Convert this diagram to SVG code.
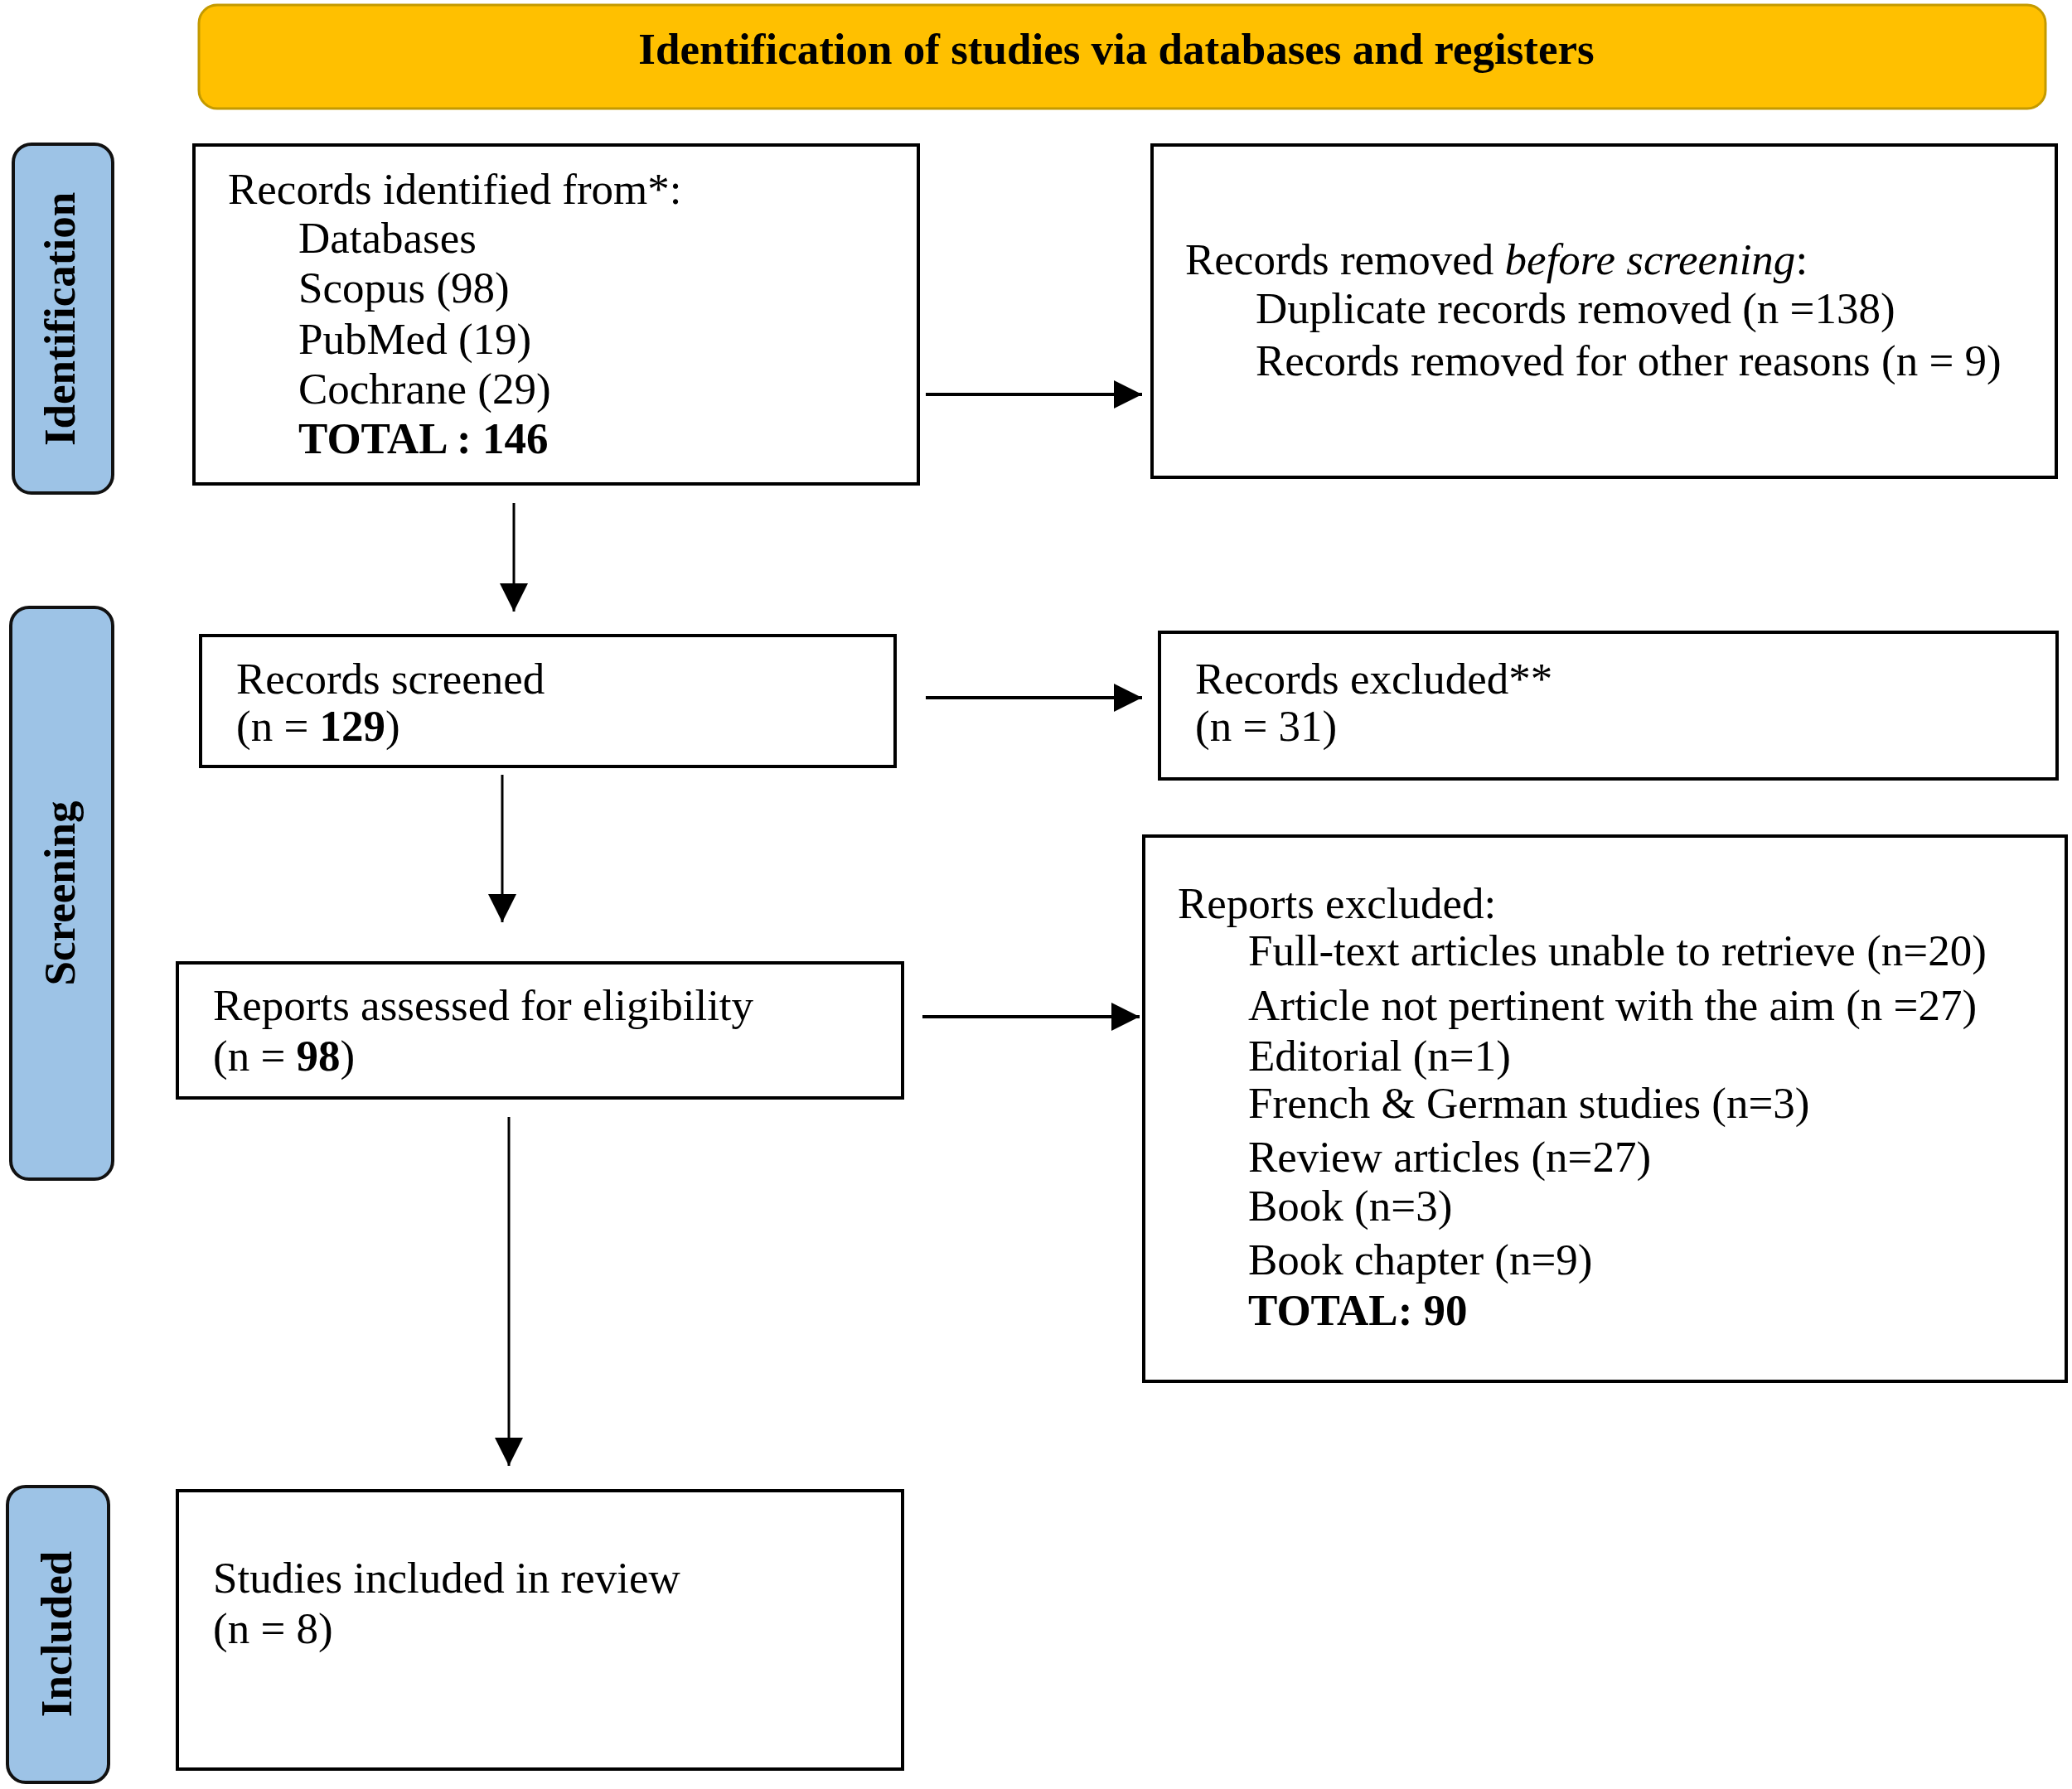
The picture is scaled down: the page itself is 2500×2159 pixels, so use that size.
<svg xmlns="http://www.w3.org/2000/svg" width="2500" height="2159" viewBox="0 0 2500 2159">
<style>
text{font-family:"Liberation Serif","Times New Roman",serif;font-size:53px;fill:#000}
.b{font-weight:bold}
.box{fill:#fff;stroke:#000;stroke-width:4}
.side{fill:#9DC3E6;stroke:#111;stroke-width:4}
.hdr{fill:#FFC000;stroke:#C49A00;stroke-width:3}
.con{stroke:#000;fill:none}
</style>
<defs>
<marker id="ah" viewBox="0 0 10 10" refX="10" refY="5" markerWidth="34" markerHeight="34" markerUnits="userSpaceOnUse" orient="auto">
<path d="M0,0 L10,5 L0,10 z" fill="#000"/>
</marker>
</defs>
<rect width="2500" height="2159" fill="#fff"/>

<g id="header">
<rect class="hdr" x="240" y="6" width="2228" height="125" rx="22"/>
<text class="b" x="1347" y="77" text-anchor="middle">Identification of studies via databases and registers</text>
</g>

<g id="side-identification">
<rect class="side" x="16" y="174" width="120" height="421" rx="22"/>
<text class="b" transform="translate(90,385) rotate(-90)" text-anchor="middle">Identification</text>
</g>
<g id="side-screening">
<rect class="side" x="13" y="733" width="123" height="690" rx="22"/>
<text class="b" transform="translate(90,1078) rotate(-90)" text-anchor="middle">Screening</text>
</g>
<g id="side-included">
<rect class="side" x="9" y="1794" width="122" height="357" rx="22"/>
<text class="b" transform="translate(86,1972) rotate(-90)" text-anchor="middle">Included</text>
</g>

<g id="records-identified">
<rect class="box" x="234" y="175" width="874" height="409"/>
<text x="275" y="246">Records identified from*:</text>
<text x="360" y="305">Databases</text>
<text x="360" y="365">Scopus (98)</text>
<text x="360" y="427">PubMed (19)</text>
<text x="360" y="487">Cochrane (29)</text>
<text class="b" x="360" y="547">TOTAL : 146</text>
</g>

<g id="records-removed">
<rect class="box" x="1390" y="175" width="1091" height="401"/>
<text x="1430" y="331">Records removed <tspan font-style="italic">before screening</tspan>:</text>
<text x="1515" y="390">Duplicate records removed (n =138)</text>
<text x="1515" y="453">Records removed for other reasons (n = 9)</text>
</g>

<g id="records-screened">
<rect class="box" x="242" y="767" width="838" height="158"/>
<text x="285" y="837">Records screened</text>
<text x="285" y="894">(n = <tspan class="b">129</tspan>)</text>
</g>

<g id="records-excluded">
<rect class="box" x="1399" y="763" width="1083" height="177"/>
<text x="1442" y="837">Records excluded**</text>
<text x="1442" y="894">(n = 31)</text>
</g>

<g id="reports-assessed">
<rect class="box" x="214" y="1162" width="875" height="163"/>
<text x="257" y="1231">Reports assessed for eligibility</text>
<text x="257" y="1292">(n = <tspan class="b">98</tspan>)</text>
</g>

<g id="reports-excluded">
<rect class="box" x="1380" y="1009" width="1113" height="658"/>
<text x="1421" y="1108">Reports excluded:</text>
<text x="1506" y="1165">Full-text articles unable to retrieve (n=20)</text>
<text x="1506" y="1231">Article not pertinent with the aim (n =27)</text>
<text x="1506" y="1292">Editorial (n=1)</text>
<text x="1506" y="1349">French &amp; German studies (n=3)</text>
<text x="1506" y="1414">Review articles (n=27)</text>
<text x="1506" y="1473">Book (n=3)</text>
<text x="1506" y="1538">Book chapter (n=9)</text>
<text class="b" x="1506" y="1599">TOTAL: 90</text>
</g>

<g id="studies-included">
<rect class="box" x="214" y="1799" width="875" height="336"/>
<text x="257" y="1922">Studies included in review</text>
<text x="257" y="1983">(n = 8)</text>
</g>

<g id="connectors">
<line class="con" stroke-width="4" x1="1117" y1="476" x2="1378" y2="476" marker-end="url(#ah)"/>
<line class="con" stroke-width="3" x1="620" y1="607" x2="620" y2="738" marker-end="url(#ah)"/>
<line class="con" stroke-width="4" x1="1117" y1="842" x2="1378" y2="842" marker-end="url(#ah)"/>
<line class="con" stroke-width="3" x1="606" y1="935" x2="606" y2="1113" marker-end="url(#ah)"/>
<line class="con" stroke-width="4" x1="1113" y1="1227" x2="1375" y2="1227" marker-end="url(#ah)"/>
<line class="con" stroke-width="3" x1="614" y1="1348" x2="614" y2="1769" marker-end="url(#ah)"/>
</g>
</svg>
